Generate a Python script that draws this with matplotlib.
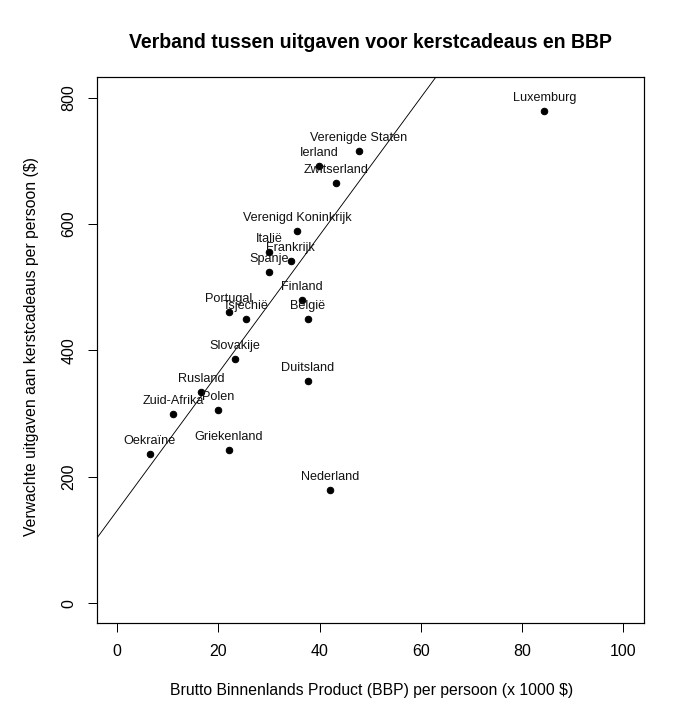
import matplotlib
matplotlib.use("Agg")
import matplotlib.pyplot as plt
import numpy as np

plt.rcParams['font.family'] = ['Liberation Sans', 'DejaVu Sans']

# data
countries = ["Luxemburg", "Verenigde Staten", "Ierland", "Zwitserland",
             "Verenigd Koninkrijk", "Italië", "Frankrijk", "Spanje",
             "Finland", "België", "Portugal", "Tsjechië", "Slovakije",
             "Duitsland", "Rusland", "Polen", "Zuid-Afrika", "Oekraïne",
             "Griekenland", "Nederland"]
bbp = [84.4, 47.8, 39.9, 43.3, 35.6, 30.0, 34.3, 30.0, 36.5, 37.7,
       22.1, 25.5, 23.3, 37.7, 16.6, 20.0, 11.1, 6.5, 22.1, 42.1]
uitgaven = [779, 716, 692, 664, 588, 555, 542, 524, 479, 450,
            461, 450, 387, 352, 334, 306, 299, 236, 242, 179]

# reference line (intercept, slope)
intercept = 146
slope = 10.9

xticks = [0, 20, 40, 60, 80, 100]
yticks = [0, 200, 400, 600, 800]

W, H = 683, 720
fig = plt.figure(figsize=(W / 72, H / 72), dpi=72)
ax = fig.add_axes([96.7 / W, 1 - 623.3 / H, (643.7 - 96.7) / W, (623.3 - 77.3) / H])

ax.plot(bbp, uitgaven, 'o', color='black', markersize=6.5)
for name, x, y in zip(countries, bbp, uitgaven):
    ax.annotate(name, (x, y), xytext=(0, 13), textcoords='offset points',
                ha='center', va='center', fontsize=12.6, color='#111111')

ax.axline((0, intercept), slope=slope, color='black', linewidth=0.9)

ax.set_xlim(-4, 104)
ax.set_ylim(-32, 832)
ax.set_xticks(xticks)
ax.set_yticks(yticks)
ax.tick_params(direction='out', length=9, width=1, labelsize=16, colors='black')
ax.tick_params(axis='x', pad=12)
ax.tick_params(axis='y', pad=11)
for lab in ax.get_yticklabels():
    lab.set_rotation(90)
    lab.set_va('center')
for s in ax.spines.values():
    s.set_linewidth(1.2)

fig.text(370.2 / W, 1 - 43 / H, "Verband tussen uitgaven voor kerstcadeaus en BBP",
         ha='center', va='center', fontsize=19.5, fontweight='bold')
fig.text(372 / W, 1 - 690 / H, "Brutto Binnenlands Product (BBP) per persoon (x 1000 $)",
         ha='center', va='center', fontsize=15.7)
fig.text(32 / W, 1 - 347 / H, "Verwachte uitgaven aan kerstcadeaus per persoon ($)",
         ha='center', va='center', rotation=90, fontsize=15.7)

fig.savefig("out.png", dpi=72)
